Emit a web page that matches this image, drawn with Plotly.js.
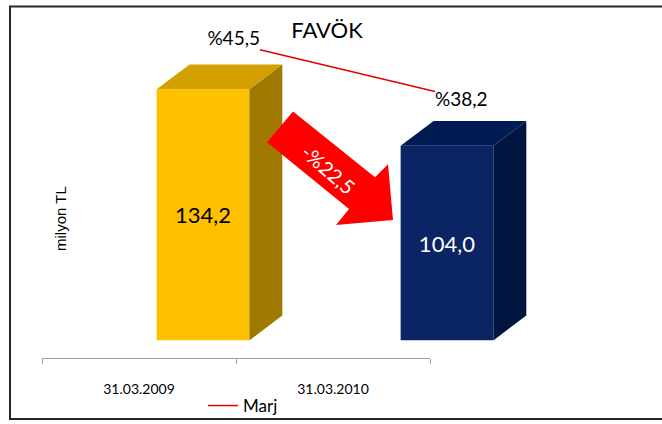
<!DOCTYPE html>
<html>
<head>
<meta charset="utf-8">
<script src="https://cdn.plot.ly/plotly-3.0.1.min.js"></script>
<style>html,body{margin:0;padding:0;background:#fff;}#chart{width:662px;height:424px;}</style>
</head>
<body>
<div id="chart"></div>
<script>
// ---- data ----
const categories = ['31.03.2009', '31.03.2010'];
const favok = [134.2, 104.0];          // milyon TL
const marj = [45.5, 38.2];             // %
const seriesName = 'Marj';
const chartTitle = 'FAVÖK';
const yTitle = 'milyon TL';

// ---- styling ----
const W = 662, H = 424;
const px = v => v / W;
const py = v => 1 - v / H;
const FONT = 'Lato, "DejaVu Sans", sans-serif';
const frontCols = ['#FFC000', '#0A2464'];
const sideCols = ['#A07A00', '#00153F'];
const topCols = ['#D2A000', '#001B52'];
const textCols = ['#000000', '#FFFFFF'];

const idx = categories.map((c, i) => i);
const fmt = v => v.toFixed(1).replace('.', ',');

const halfW = 0.19, depthX = 0.135, depthY = 13.3;

const traces = [];
// category axis carrier (invisible)
traces.push({
  type: 'scatter', x: categories, y: categories.map(() => null), xaxis: 'x', yaxis: 'y3',
  mode: 'markers', showlegend: false, hoverinfo: 'skip'
});
// bars (front faces)
traces.push({
  type: 'bar', x: idx, y: favok, xaxis: 'x2', yaxis: 'y', width: 0.38,
  marker: {color: frontCols, line: {width: 0}},
  texttemplate: '%{y:.1f}', textposition: 'inside', insidetextanchor: 'middle',
  constraintext: 'none',
  textfont: {family: FONT, size: 22, color: textCols},
  showlegend: false, hoverinfo: 'skip'
});
// 3D side and top faces
idx.forEach(i => {
  const v = favok[i];
  traces.push({
    type: 'scatter', xaxis: 'x2', yaxis: 'y', mode: 'lines', fill: 'toself',
    x: [i + halfW, i + halfW + depthX, i + halfW + depthX, i + halfW],
    y: [0, depthY, v + depthY, v],
    fillcolor: sideCols[i], line: {width: 0, color: sideCols[i]},
    showlegend: false, hoverinfo: 'skip'
  });
  traces.push({
    type: 'scatter', xaxis: 'x2', yaxis: 'y', mode: 'lines', fill: 'toself',
    x: [i - halfW, i + halfW, i + halfW + depthX, i - halfW + depthX],
    y: [v, v, v + depthY, v + depthY],
    fillcolor: topCols[i], line: {width: 0, color: topCols[i]},
    showlegend: false, hoverinfo: 'skip'
  });
});
// margin line
traces.push({
  type: 'scatter', x: idx, y: marj, xaxis: 'x3', yaxis: 'y2', name: seriesName,
  mode: 'lines+text', line: {color: '#E00000', width: 1.5},
  text: marj.map(v => '%' + fmt(v)), textposition: ['top left', 'bottom right'],
  textfont: {family: FONT, size: 19, color: '#000'}, cliponaxis: false,
  hoverinfo: 'skip'
});

const change = (favok[1] / favok[0] - 1) * 100;
const changeText = (change < 0 ? '-' : '') + '%' + fmt(Math.abs(change));

const arrowPts = [[293,112],[375,178],[388,165],[393,221],[336,226],[349,210],[267,143]];
const arrowPath = 'M' + arrowPts.map(p => px(p[0]) + ',' + py(p[1])).join(' L') + ' Z';

const layout = {
  width: W, height: H,
  margin: {l: 0, r: 0, t: 0, b: 0, pad: 0},
  paper_bgcolor: '#FFFFFF', plot_bgcolor: 'rgba(0,0,0,0)',
  separators: ',.',
  title: {text: chartTitle, x: px(327), y: py(30), xanchor: 'center', yanchor: 'middle',
          xref: 'paper', yref: 'container', font: {family: FONT, size: 22, color: '#000'}},
  xaxis: {type: 'category', categoryarray: categories, categoryorder: 'array', range: [-0.5, 1.5],
          domain: [px(42), px(430)], anchor: 'free', position: py(360),
          tickson: 'boundaries', ticks: 'outside', ticklen: 5, tickcolor: '#A0A0A0',
          showline: true, linecolor: '#A0A0A0', linewidth: 1, showgrid: false, zeroline: false,
          tickfont: {family: FONT, size: 14, color: '#000'}, ticklabelstandoff: 18, fixedrange: true},
  yaxis3: {anchor: 'x', domain: [0, 1], range: [0, 1], visible: false, fixedrange: true},
  xaxis2: {type: 'linear', range: [-0.5, 1.5], domain: [px(81), px(569)], anchor: 'y', visible: false, fixedrange: true},
  yaxis: {range: [0, 170], domain: [82 / H, (82 + 170 * 1.88) / H], anchor: 'x2', visible: false, fixedrange: true},
  xaxis3: {type: 'linear', range: [-0.5, 1.5], domain: [px(172.5), px(522.5)], anchor: 'y2', visible: false, fixedrange: true},
  yaxis2: {range: [-5.26, 50.30], domain: [82 / H, (82 + 170 * 1.88) / H], anchor: 'x3', visible: false, fixedrange: true},
  showlegend: true,
  legend: {orientation: 'h', x: px(203), y: py(408), xanchor: 'left', yanchor: 'middle',
           font: {family: FONT, size: 17, color: '#000'}, bgcolor: 'rgba(0,0,0,0)'},
  shapes: [
    {type: 'rect', xref: 'paper', yref: 'paper', x0: px(10), x1: px(700), y0: py(6.5), y1: py(421),
     line: {color: '#262626', width: 2}, fillcolor: 'rgba(0,0,0,0)', layer: 'above'},
    {type: 'path', xref: 'paper', yref: 'paper', path: arrowPath, fillcolor: '#FF0000',
     line: {width: 0}, layer: 'above'}
  ],
  annotations: [
    {text: changeText, xref: 'paper', yref: 'paper', x: px(328), y: py(170), textangle: 41,
     xanchor: 'center', yanchor: 'middle',
     showarrow: false, font: {family: FONT, size: 20, color: '#FFFFFF'}},
    {text: yTitle, xref: 'paper', yref: 'paper', x: px(61), y: py(220), textangle: -90,
     xanchor: 'center', yanchor: 'middle',
     showarrow: false, font: {family: '"Liberation Sans", Arial, sans-serif', size: 15, color: '#000'}}
  ]
};

Plotly.newPlot('chart', traces, layout, {displayModeBar: false, staticPlot: true});
</script>
</body>
</html>
